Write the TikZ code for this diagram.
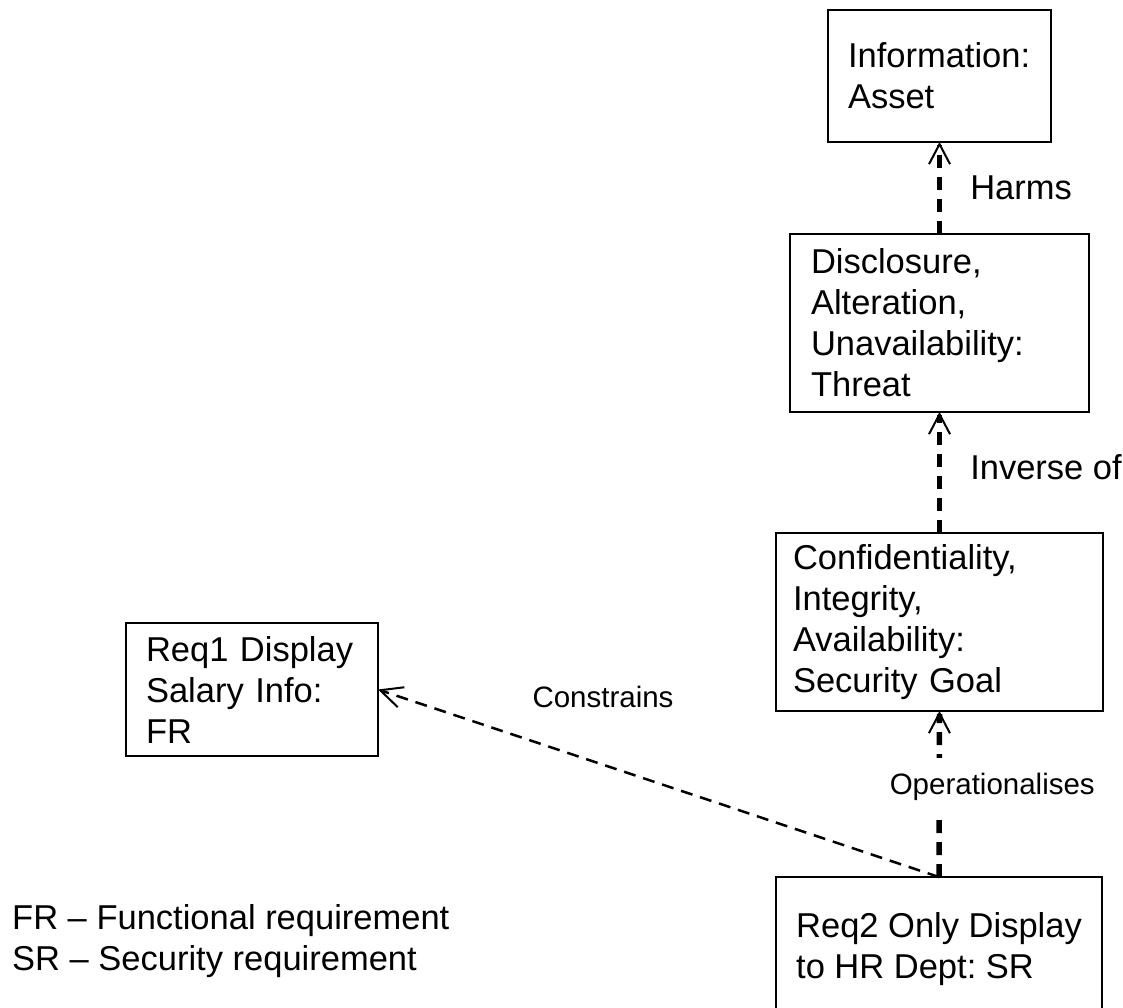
\documentclass[tikz,border=0pt]{standalone}
\usepackage{fontspec}
\setmainfont{Liberation Sans}
\usetikzlibrary{arrows.meta}
\frenchspacing
\tikzset{
	entity/.style   ={rectangle, draw=black, line width=2pt, outer sep=0pt, anchor=north west, align=left, font=\fontsize{34.5}{41}\selectfont},
	dep/.style      ={-{Straight Barb[length=20pt, width=21pt, line width=2pt]}, line width=5.5pt, dash pattern=on 13pt off 9pt},
	cons/.style     ={-{Straight Barb[length=22pt, width=21pt, line width=2pt]}, line width=2.5pt, dash pattern=on 12pt off 8pt},
	rellabel/.style ={font=\fontsize{34.5}{41}\selectfont, inner sep=0pt},
	smalllabel/.style={font=\fontsize{29.5}{35}\selectfont, inner sep=0pt},
	oplabel/.style  ={smalllabel, fill=white, inner xsep=0pt, inner ysep=15pt},
}

\begin{document}
\begin{tikzpicture}[x=1pt, y=-1pt]
	\useasboundingbox (0,0) rectangle (1123,1008);
	\clip (0,0) rectangle (1123,1008);
	% goal model boxes
	\node[entity, minimum width=223pt, minimum height=132pt, text width=183pt, inner xsep=20pt] (asset) at (828,10) {Information:\\Asset};
	\node[entity, minimum width=299pt, minimum height=178pt, text width=257pt, inner xsep=21pt] (threat) at (790,234) {Disclosure,\\Alteration,\\Unavailability:\\Threat};
	\node[entity, minimum width=327pt, minimum height=178pt, text width=293pt, inner xsep=17pt] (goal) at (776,533) {Confidentiality,\\Integrity,\\Availability:\\Security Goal};
	\node[entity, minimum width=252pt, minimum height=133pt, text width=212pt, inner xsep=20pt] (req1) at (126,623) {Req1 Display\\Salary Info:\\FR};
	\node[entity, minimum width=326pt, minimum height=144pt] (req2) at (776,877) {Req2 Only Display\\to HR Dept: SR};
	% relations
	\draw[dep] (threat.north) -- (asset.south) node[midway, right=28pt, rellabel] {Harms};
	\draw[dep] (goal.north) -- (threat.south) node[midway, right=28pt, yshift=5pt, rellabel] {Inverse of};
	\draw[dep] (req2.north) -- (goal.south) node[midway, oplabel, xshift=53pt, yshift=7pt] {Operationalises};
	\draw[cons] (req2.north) -- (req1.east);
	\node[smalllabel] (constrains) at (603,697) {Constrains};
	% key
	\node[rellabel, anchor=north west, align=left] (legend) at (12,904) {FR – Functional requirement\\SR – Security requirement};
\end{tikzpicture}
\end{document}
